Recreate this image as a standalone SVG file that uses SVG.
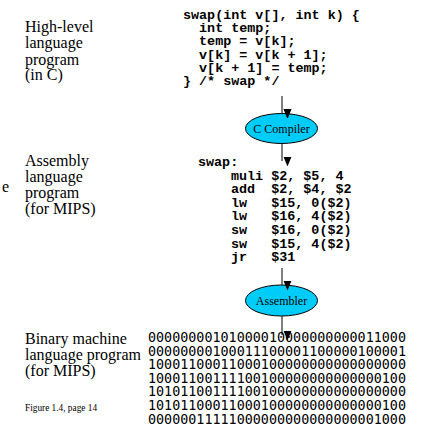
<svg xmlns="http://www.w3.org/2000/svg" width="422" height="425" viewBox="0 0 422 425">
<style>
.lbl{font-family:"Liberation Serif","Times New Roman",serif;font-size:16px;fill:#000}
.code{font-family:"Liberation Mono","Courier New",monospace;font-size:13.4px;font-weight:bold;fill:#000;white-space:pre}
.bin{font-family:"DejaVu Sans Mono",monospace;font-size:13.4px;fill:#000}
.ell{fill:#00CCFA;stroke:#000;stroke-width:1}
.etxt{font-family:"Liberation Serif","Times New Roman",serif;font-size:12px;fill:#000;text-anchor:middle}
.fig{font-family:"Liberation Serif","Times New Roman",serif;font-size:9.3px;fill:#000}
.conn{stroke:#000;stroke-width:1;fill:none;marker-end:url(#ah)}
</style>
<defs>
<marker id="ah" markerUnits="userSpaceOnUse" markerWidth="9" markerHeight="11" refX="4.5" refY="11" orient="auto-start-reverse" viewBox="0 0 9 11">
<path d="M0,0 L9,0 L4.5,11 z" fill="#000" transform="rotate(-90 4.5 5.5)"/>
</marker>
</defs>
<rect width="422" height="425" fill="#fff"/>
<g id="label-high">
<text class="lbl" x="25" y="32">High-level</text>
<text class="lbl" x="25" y="48">language</text>
<text class="lbl" x="25" y="64.5">program</text>
<text class="lbl" x="25" y="80">(in C)</text>
</g>
<g id="label-asm">
<text class="lbl" x="2" y="192">e</text>
<text class="lbl" x="25" y="166">Assembly</text>
<text class="lbl" x="25" y="182">language</text>
<text class="lbl" x="25" y="198">program</text>
<text class="lbl" x="25" y="214">(for MIPS)</text>
</g>
<g id="label-bin">
<text class="lbl" x="25" y="344">Binary machine</text>
<text class="lbl" x="25" y="360">language program</text>
<text class="lbl" x="25" y="375.5">(for MIPS)</text>
<text class="fig" x="25" y="411">Figure 1.4, page 14</text>
</g>
<g id="c-code">
<text class="code" xml:space="preserve" x="183" y="18.5">swap(int v[], int k) {</text>
<text class="code" xml:space="preserve" x="183" y="32">  int temp;</text>
<text class="code" xml:space="preserve" x="183" y="45.3">  temp = v[k];</text>
<text class="code" xml:space="preserve" x="183" y="58.7">  v[k] = v[k + 1];</text>
<text class="code" xml:space="preserve" x="183" y="72">  v[k + 1] = temp;</text>
<text class="code" xml:space="preserve" x="183" y="85.3">} /* swap */</text>
</g>
<g id="compiler">
<ellipse class="ell" cx="281.5" cy="128.5" rx="36" ry="15"/>
<text class="etxt" x="281.5" y="132.5">C Compiler</text>
</g>
<g id="asm-code">
<text class="code" xml:space="preserve" x="198" y="166">swap:</text>
<text class="code" xml:space="preserve" x="231" y="179.5">muli $2, $5, 4</text>
<text class="code" xml:space="preserve" x="231" y="193">add  $2, $4, $2</text>
<text class="code" xml:space="preserve" x="231" y="206.7">lw   $15, 0($2)</text>
<text class="code" xml:space="preserve" x="231" y="220.3">lw   $16, 4($2)</text>
<text class="code" xml:space="preserve" x="231" y="234">sw   $16, 0($2)</text>
<text class="code" xml:space="preserve" x="231" y="247.6">sw   $15, 4($2)</text>
<text class="code" xml:space="preserve" x="231" y="261.2">jr   $31</text>
</g>
<g id="assembler">
<ellipse class="ell" cx="281.5" cy="300.5" rx="36" ry="15.5"/>
<text class="etxt" x="281.5" y="304.5">Assembler</text>
</g>
<g id="binary">
<text class="bin" x="148" y="342">00000000101000010000000000011000</text>
<text class="bin" x="148" y="355.6">00000000100011100001100000100001</text>
<text class="bin" x="148" y="369.2">10001100011000100000000000000000</text>
<text class="bin" x="148" y="382.8">10001100111100100000000000000100</text>
<text class="bin" x="148" y="396.4">10101100111100100000000000000000</text>
<text class="bin" x="148" y="410">10101100011000100000000000000100</text>
<text class="bin" x="148" y="423.6">00000011111000000000000000001000</text>
</g>
<g id="connectors">
<line class="conn" x1="282" y1="96" x2="282" y2="113.5"/>
<line class="conn" x1="282" y1="143.5" x2="282" y2="161"/>
<line class="conn" x1="282" y1="268" x2="282" y2="285"/>
<line class="conn" x1="282" y1="316" x2="282" y2="335"/>
</g>
</svg>
